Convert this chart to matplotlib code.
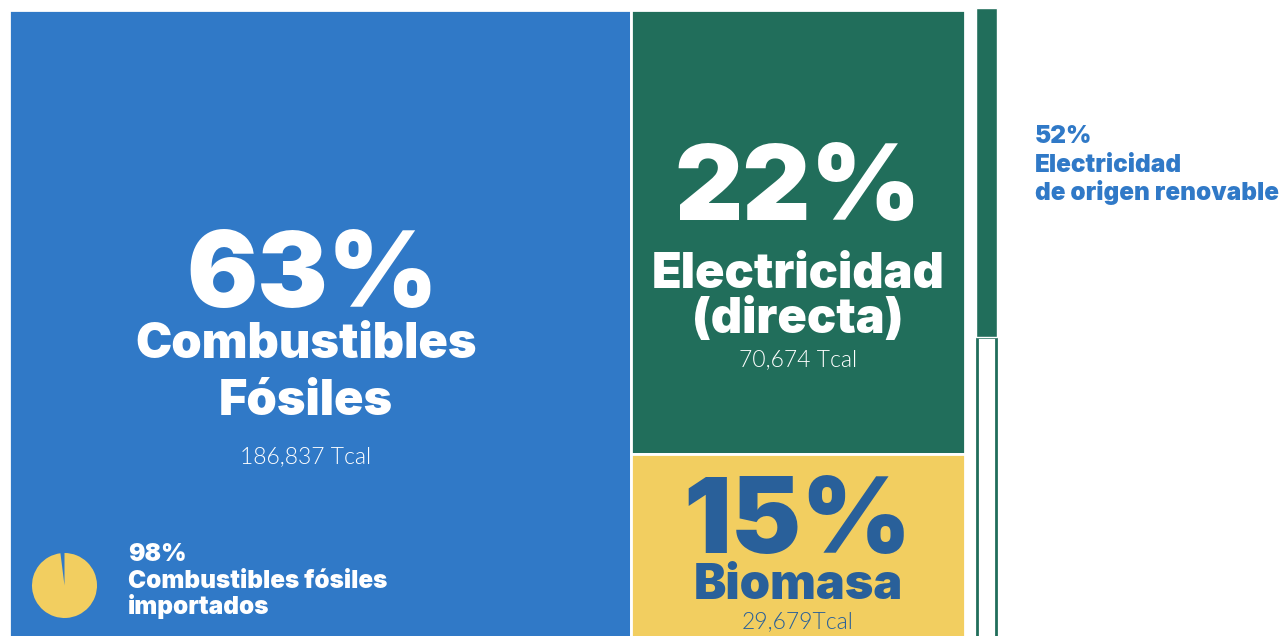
import matplotlib
matplotlib.use("Agg")
import matplotlib.pyplot as plt
from matplotlib import font_manager as fm
from matplotlib.patches import Rectangle

# energy consumption by source (Tcal) and shares
sources = [["Combustibles", "Fósiles"], ["Electricidad", "(directa)"], ["Biomasa"]]
tcal = [186837, 70674, 29679]
shares = [63, 22, 15]
tcal_labels = ["186,837 Tcal", "70,674 Tcal", "29,679Tcal"]
imported_fossil = 98
imported_label = ["Combustibles fósiles", "importados"]
renewable_elec = 52
renewable_label = ["Electricidad", "de origen renovable"]

BLUE = "#3079c7"
GREEN = "#216e5b"
YELLOW = "#f2ce60"
DARK_BLUE = "#29609a"


def font_file(name):
    for f in fm.fontManager.ttflist:
        if f.fname.endswith(name):
            return f.fname
    return None


heavy_path = font_file("Inter-Black.otf")
light_path = font_file("Lato-Light.ttf") or font_file("Lato-Regular.ttf")


def heavy(size):
    if heavy_path:
        return fm.FontProperties(fname=heavy_path, size=size)
    return fm.FontProperties(family="DejaVu Sans", weight="bold", size=size)


def light(size):
    if light_path:
        return fm.FontProperties(fname=light_path, size=size)
    return fm.FontProperties(family="DejaVu Sans", size=size)


fig = plt.figure(figsize=(12.87, 6.36), dpi=100)
ax = fig.add_axes([0, 0, 1, 1])
ax.set_xlim(0, 1287)
ax.set_ylim(636, 0)
ax.axis("off")

# treemap area (slice and dice from the Tcal values)
x0, y0, x1, y1 = 9, 10, 965, 640
total = sum(tcal)
split_x = x0 + (x1 - x0) * tcal[0] / total
split_y = y0 + (y1 - y0) * tcal[1] / (tcal[1] + tcal[2])

rects = [
    (x0, y0, split_x - x0, y1 - y0, BLUE),
    (split_x, y0, x1 - split_x, split_y - y0, GREEN),
    (split_x, split_y, x1 - split_x, y1 - split_y, YELLOW),
]
for rx, ry, rw, rh, c in rects:
    ax.add_patch(Rectangle((rx, ry), rw, rh, facecolor=c, edgecolor="white", lw=2))

# label layout: baseline of the % line, name lines, Tcal line
label_x = [306, split_x + (x1 - split_x) / 2, split_x + (x1 - split_x) / 2]
pct_base = [307, 220, 553]
name_base = [[358, 415], [288, 333], [599]]
tcal_base = [463, 366, 628]
text_colors = ["white", "white", DARK_BLUE]

for i in range(3):
    cx = label_x[i]
    ax.text(cx + (6 if i == 0 else 0), pct_base[i], f"{shares[i]}%",
            fontproperties=heavy(76), color=text_colors[i], ha="center", va="baseline")
    for line, yb in zip(sources[i], name_base[i]):
        ax.text(cx, yb, line, fontproperties=heavy(35), color=text_colors[i],
                ha="center", va="baseline")
    ax.text(cx, tcal_base[i], tcal_labels[i], fontproperties=light(16.5),
            color=text_colors[i], ha="center", va="baseline")

# imported fossil fuel pie
pie_ax = fig.add_axes([32 / 1287, 1 - 618 / 636, 65 / 1287, 65 / 636])
pie_ax.pie([100 - imported_fossil, imported_fossil], colors=[BLUE, YELLOW],
           startangle=90, counterclock=True, radius=1,
           wedgeprops=dict(linewidth=0))
pie_ax.set_xlim(-1, 1)
pie_ax.set_ylim(-1, 1)
pie_ax.set_aspect("equal")
pie_ax.axis("off")

for line, yb in zip([f"{imported_fossil}%"] + imported_label, [561, 588, 614]):
    ax.text(128, yb, line, fontproperties=heavy(17.5), color="white",
            ha="left", va="baseline")

# renewable electricity bar
bx, bw, by0, by1 = 977, 19, 8, 640
green_h = (by1 - by0) * renewable_elec / 100
ax.add_patch(Rectangle((bx, by0 + green_h), bw, by1 - by0 - green_h,
                       facecolor="white", edgecolor=GREEN, lw=2))
ax.add_patch(Rectangle((bx - 1, by0), bw + 2, green_h, facecolor=GREEN,
                       edgecolor="white", lw=1))

for line, yb in zip([f"{renewable_elec}%"] + renewable_label, [143, 172, 200]):
    ax.text(1035, yb, line, fontproperties=heavy(17.5), color=BLUE,
            ha="left", va="baseline")

fig.savefig("out.png", dpi=100, facecolor="white")
